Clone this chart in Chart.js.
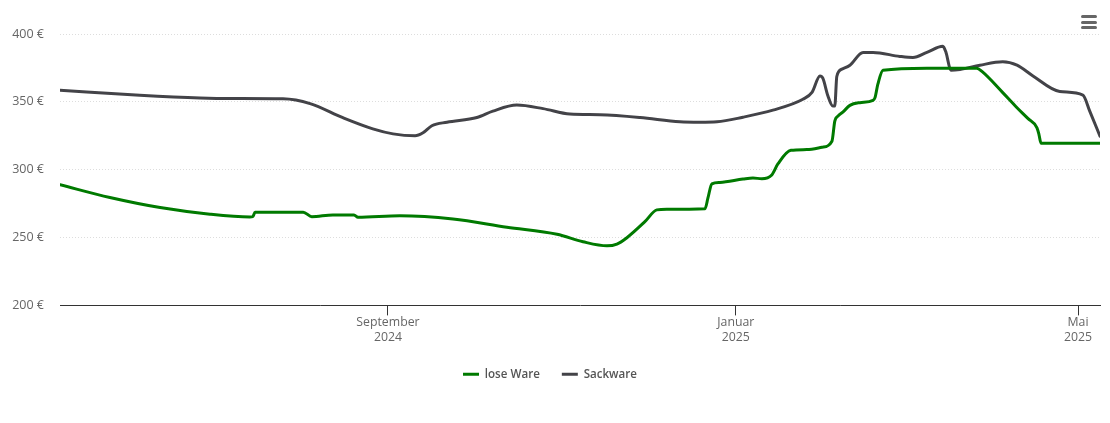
<!DOCTYPE html>
<html>
<head>
<meta charset="utf-8">
<title>Preisverlauf</title>
<script src="https://cdn.jsdelivr.net/npm/chart.js@4/dist/chart.umd.min.js"></script>
<style>
    html, body { margin: 0; padding: 0; background: #fff; }
    #wrap { position: relative; width: 1110px; height: 423px; }
    #menu { position: absolute; left: 1081px; top: 15px; width: 16px; }
    #menu span { display: block; height: 3px; margin-bottom: 2.5px; background: #666; border-radius: 1.5px; }
</style>
</head>
<body>
<div id="wrap">
    <canvas id="priceChart" width="1110" height="423"></canvas>
    <div id="menu"><span></span><span></span><span></span></div>
</div>
<script>
// days counted from the left edge of the chart (about 9 May 2024), prices in euro
const loseDays = [0, 17.5, 35.1, 52.6, 66.6, 67.6, 68.4, 85.3, 88.3, 95.7, 103.1, 104.5, 119.2, 137.8, 156.7, 174.3, 183.4, 191.8, 195.3, 198.8, 205.1, 209.3, 212.8, 226.2, 227.2, 228.6, 231.4, 239.5, 243, 246.1, 249.6, 251.8, 256.3, 261.9, 267.2, 270.7, 271.7, 272.8, 274.5, 277, 280.5, 285.1, 285.8, 286.8, 288.6, 304, 321.5, 323.3, 330.6, 335.6, 339.4, 342.6, 343.3, 344, 364.7];
const losePrices = [288.9, 279.5, 272.1, 267.2, 265.2, 265.4, 268.7, 268.7, 265.4, 266.7, 266.7, 265, 266.1, 263.7, 257.6, 252.4, 246.9, 243.9, 245.2, 249.9, 261.7, 270.4, 270.9, 271.3, 279, 289.6, 290.6, 293.1, 293.9, 293.3, 296.1, 304.4, 314.3, 314.8, 316.5, 321, 335.8, 339.5, 342.4, 347.4, 349.4, 351.1, 353.1, 363, 373.3, 374.8, 374.8, 372.4, 356.8, 345.7, 337.8, 330.9, 325.9, 319.5, 319.5];

const sackDays = [0, 28, 49.1, 60.7, 78.2, 87.7, 99.2, 109.7, 116.8, 124.5, 127.3, 130.4, 135.7, 146.2, 151.8, 160.2, 169.4, 178.8, 189.3, 203.4, 217.4, 224.4, 230.4, 239.5, 250, 260.5, 263.7, 266.5, 267.5, 269.3, 271, 271.7, 272.4, 274.2, 277, 281.6, 285.1, 294.5, 299.1, 304, 309.6, 310.7, 312.4, 315.6, 322.6, 330.6, 335.6, 341.2, 350.6, 358.7, 361.1, 364.7];
const sackPrices = [358.5, 354.8, 352.8, 352.4, 352.2, 348.7, 338.3, 330.1, 326.4, 325, 327.2, 332.4, 335, 338.5, 343.2, 347.6, 345, 341, 340.5, 338.5, 335.3, 335, 335.3, 338.7, 343.9, 351.9, 357, 369.1, 367.4, 354.3, 346.9, 346.9, 368.7, 374.1, 377, 386.4, 386.4, 383.5, 382.7, 386.4, 390.9, 386.4, 373.3, 373.9, 377, 379.5, 377, 369.1, 357.6, 355, 343.2, 324.7];

const tickDays = [115, 237, 357];
const tickLabels = [["September", "2024"], ["Januar", "2025"], ["Mai", "2025"]];
const priceTicks = [200, 250, 300, 350, 400];

const seriesNames = ["lose Ware", "Sackware"];
const fontName = "'Open Sans', sans-serif";

function toPoints(days, prices) {
    return days.map((d, i) => ({ x: d, y: prices[i] }));
}

new Chart(document.getElementById("priceChart"), {
    type: "line",
    data: {
        datasets: [
            {
                label: seriesNames[0],
                data: toPoints(loseDays, losePrices),
                borderColor: "#007a00",
                backgroundColor: "#007a00",
                borderWidth: 3
            },
            {
                label: seriesNames[1],
                data: toPoints(sackDays, sackPrices),
                borderColor: "#434348",
                backgroundColor: "#434348",
                borderWidth: 3
            }
        ]
    },
    options: {
        responsive: false,
        animation: false,
        layout: { padding: { top: 34, right: 10, left: 0, bottom: 33 } },
        elements: {
            point: { radius: 0 },
            line: { cubicInterpolationMode: "monotone", borderCapStyle: "round", borderJoinStyle: "round" }
        },
        scales: {
            x: {
                type: "linear",
                min: 0,
                max: 364.7,
                afterBuildTicks: scale => {
                    scale.ticks = tickDays.map(d => ({ value: d }));
                },
                afterFit: scale => { scale.height = 41; },
                grid: { drawOnChartArea: false, drawTicks: true, tickLength: 10, tickColor: "#333333" },
                border: { display: true, color: "#333333", width: 1 },
                ticks: {
                    autoSkip: false,
                    maxRotation: 0,
                    padding: 0,
                    color: "#666666",
                    font: { family: fontName, size: 12.3, lineHeight: 1.22 },
                    callback: value => tickLabels[tickDays.indexOf(value)]
                }
            },
            y: {
                min: 200,
                max: 400,
                afterBuildTicks: scale => {
                    scale.ticks = priceTicks.map(v => ({ value: v }));
                },
                afterFit: scale => { scale.width = 60; },
                grid: { color: "#dddddd", lineWidth: 1, drawTicks: false },
                border: { display: false, dash: [1, 2] },
                ticks: {
                    padding: 16,
                    color: "#666666",
                    font: { family: fontName, size: 12.5 },
                    callback: value => value + " €"
                }
            }
        },
        plugins: {
            tooltip: { enabled: false },
            legend: {
                position: "bottom",
                labels: {
                    usePointStyle: true,
                    pointStyle: "line",
                    pointStyleWidth: 16,
                    boxHeight: 3,
                    padding: 22,
                    color: "#555555",
                    font: { family: fontName, size: 11.6, weight: "600" }
                }
            }
        }
    }
});
</script>
</body>
</html>
